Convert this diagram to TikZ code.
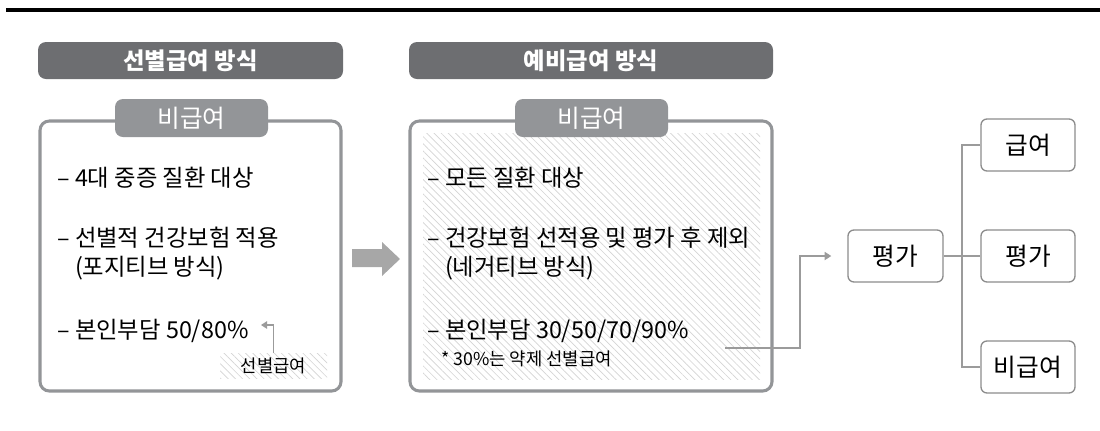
\documentclass[tikz,border=0pt]{standalone}
\usepackage{fontspec}
\setmainfont{Noto Sans CJK KR}
\usetikzlibrary{arrows.meta,patterns.meta}
\definecolor{hdr}{HTML}{6D6E71}
\definecolor{tabc}{HTML}{939598}
\definecolor{bord}{HTML}{939598}
\definecolor{lnc}{HTML}{9B9B9B}
\definecolor{bigarr}{HTML}{A7A7A7}
\definecolor{hatchc}{HTML}{D4D4D4}
\definecolor{sbord}{HTML}{8C8C8C}
\begin{document}
\begin{tikzpicture}[x=0.75pt,y=-0.75pt,
  header/.style={fill=hdr, rounded corners=6pt, text=white, font=\bfseries\fontsize{17.5}{20}\selectfont, inner sep=0pt, minimum height=37*0.75pt},
  panel/.style={draw=bord, line width=2.3pt, rounded corners=7pt, fill=white, inner sep=0pt, minimum height=270*0.75pt},
  tabbox/.style={fill=tabc, rounded corners=6pt, text=white, font=\fontsize{18.5}{20}\selectfont, inner sep=0pt, minimum width=153*0.75pt, minimum height=38*0.75pt},
  item/.style={anchor=west, align=left, inner sep=0pt, font=\fontsize{17.5}{21.75}\selectfont},
  smalltext/.style={inner sep=0pt, font=\fontsize{13.3}{15}\selectfont},
  hatchbox/.style={pattern={Lines[angle=-45,distance=3.8pt,line width=0.5pt]}, pattern color=hatchc, inner sep=0pt},
  connector/.style={draw=lnc, line width=1.4pt},
  arrowline/.style={connector, -{Triangle[length=5pt,width=6pt]}},
  smallarrow/.style={draw=lnc, line width=1.1pt, -{Triangle[length=4.5pt,width=5.5pt]}},
  rbox/.style={draw=sbord, line width=1pt, rounded corners=4.5pt, fill=white, inner sep=0pt, minimum width=95*0.75pt, minimum height=52*0.75pt, font=\fontsize{18.5}{20}\selectfont}
]
\useasboundingbox (0,0) rectangle (1100,430);

% top rule
\draw[line width=2.5pt, black] (6,10) -- (1100,10);

% headers
\node[header, minimum width=305*0.75pt] (lhead) at (190.5,60.5) {선별급여 방식};
\node[header, minimum width=364*0.75pt] (mhead) at (591,60.5) {예비급여 방식};

% panels
\node[panel, minimum width=301*0.75pt] (lbox) at (190.5,256) {};
\node[panel, minimum width=362*0.75pt] (mbox) at (591,256) {};
\node[hatchbox, minimum width=337*0.75pt, minimum height=246*0.75pt] (mhatch) at (591.5,256) {};

% tabs
\node[tabbox] (ltab) at (191.5,118) {비급여};
\node[tabbox] (mtab) at (591.5,118) {비급여};

% left items
\node[item] (l1) at (57,178) {– 4대 중증 질환 대상};
\node[item] (l2) at (57,253.5) {– 선별적 건강보험 적용\\\phantom{– }(포지티브 방식)};
\node[item] (l3) at (57,331) {– 본인부담 50/80\%};
\node[hatchbox, minimum width=107*0.75pt, minimum height=25*0.75pt] (sb) at (273.5,366) {};
\node[smalltext] (sbt) at (sb.center) {선별급여};
\coordinate (satip) at (261,325);
\draw[smallarrow] (sb.north) |- (satip);

% middle items
\node[item] (m1) at (427,178) {– 모든 질환 대상};
\node[item] (m2) at (427,253.5) {– 건강보험 선적용 및 평가 후 제외\\\phantom{– }(네거티브 방식)};
\node[item] (m3) at (427,331) {– 본인부담 30/50/70/90\%};
\node[smalltext, anchor=west] (m4) at (441,359) {* 30\%는 약제 선별급여};

% big arrow
\fill[bigarr] (352,249) -- (382,249) -- (382,242) -- (400,259) -- (382,276) -- (382,267) -- (352,267) -- cycle;

% right side
\node[rbox] (peval) at (895.5,256) {평가};
\node[rbox, minimum width=94*0.75pt] (r1) at (1028,145) {급여};
\node[rbox, minimum width=94*0.75pt] (r2) at (1028,256) {평가};
\node[rbox, minimum width=94*0.75pt] (r3) at (1028,367) {비급여};

\coordinate (cstart) at (725,348);
\coordinate (cbend) at (800,348);
\draw[arrowline, shorten >=12pt] (cstart) -- (cbend) |- (peval.west);

\coordinate (tree) at (962,256);
\draw[connector] (peval.east) -- (r2.west);
\draw[connector] (r1.west) -| (tree);
\draw[connector] (r3.west) -| (tree);
\end{tikzpicture}
\end{document}
